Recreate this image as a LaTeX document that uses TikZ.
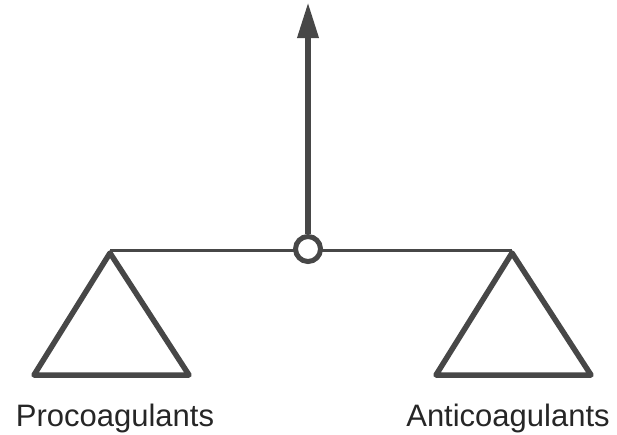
\documentclass[tikz,border=0pt]{standalone}
\usepackage{fontspec}
\setmainfont{Liberation Sans}
\usetikzlibrary{arrows.meta}
\definecolor{ink}{HTML}{474747}
\tikzset{
  pan/.style={draw=ink, line width=5.5pt, line join=round, fill=white},
  beam/.style={draw=ink, line width=3pt},
  post/.style={draw=ink, line width=6.5pt, -{Triangle[length=36pt,width=20pt]}},
  pivot/.style={circle, draw=ink, line width=5pt, fill=white, minimum size=25pt, inner sep=0pt},
  lbl/.style={anchor=base, font=\fontsize{31}{36}\selectfont, text=black!85}
}
\begin{document}
\begin{tikzpicture}[x=1pt,y=-1pt]
\useasboundingbox (0,0) rectangle (617,434);
\coordinate (la) at (110,253);
\coordinate (ra) at (512,253);
\coordinate (top) at (308,2);
\draw[beam] (110,250) -- (512,250);
\draw[pan] (la) -- (34,375) -- (189,375) -- cycle;
\draw[pan] (ra) -- (436,375) -- (591,375) -- cycle;
\node[pivot] (pv) at (308,249) {};
\draw[post] (pv.north) -- (top);
\node[lbl] (pro) at (115,426) {Procoagulants};
\node[lbl] (anti) at (508,426) {Anticoagulants};
\end{tikzpicture}
\end{document}
